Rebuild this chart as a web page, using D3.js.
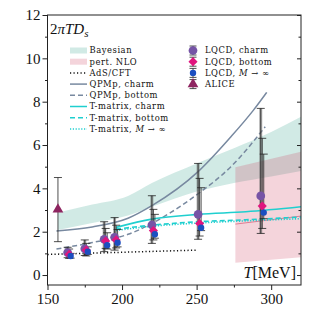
<!DOCTYPE html>
<html>
<head>
<meta charset="utf-8">
<script src="https://cdn.jsdelivr.net/npm/d3@7/dist/d3.min.js"></script>
<style>
  body { margin: 0; background: #fff; }
  text { font-family: 'Liberation Serif', 'DejaVu Serif', serif; fill: #111; }
  .leg text { font-family: 'DejaVu Serif', serif; font-size: 8.4px; letter-spacing: 0.55px; }
</style>
</head>
<body>
<div id="chart"></div>
<script>
// bands
const bayesT = [157, 180, 204, 220, 250, 275, 300, 320]
const bayesLo = [2.08, 2.4, 2.75, 3.15, 3.85, 4.25, 4.55, 4.8]
const bayesHi = [2.88, 3.25, 3.65, 4.25, 5.15, 5.85, 6.6, 7.3]
const nloT = [276, 320]
const nloLo = [0.57, 0.82]
const nloHi = [4.97, 5.69]
const nloMid = [2.35, 2.72]

// curves
const adsT = [150, 250]
const adsV = [0.95, 1.15]
const qpmCharmT = [156, 180, 204, 220, 251, 273, 288, 297]
const qpmCharmV = [2.03, 2.22, 2.62, 3.2, 4.77, 6.38, 7.6, 8.43]
const qpmBottomT = [156, 180, 204, 233, 251, 273, 296]
const qpmBottomV = [1.2, 1.5, 1.88, 2.9, 3.75, 5.0, 6.84]
const tmCharmT = [196, 220, 251, 283, 320]
const tmCharmV = [2.2, 2.58, 2.8, 2.92, 3.15]
const tmBottomT = [196, 220, 251, 283, 320]
const tmBottomV = [2.12, 2.3, 2.46, 2.55, 2.68]
const tmInfT = [196, 220, 251, 283, 320]
const tmInfV = [2.06, 2.25, 2.4, 2.5, 2.6]

// lattice points
const lqcdT = [163.5, 175, 188, 195, 220, 251, 293]
const charmV = [1.03, 1.21, 1.65, 1.74, 2.31, 2.8, 3.65]
const charmLo = [0.8, 0.9, 1.08, 1.15, 1.46, 1.65, 1.92]
const charmHi = [1.28, 1.62, 2.46, 2.65, 3.66, 5.15, 7.69]
const bottomV = [0.95, 1.15, 1.57, 1.62, 2.05, 2.38, 3.18]
const bottomLo = [0.77, 0.88, 1.23, 1.25, 1.62, 1.8, 2.15]
const bottomHi = [1.2, 1.46, 2.15, 2.3, 3.03, 4.46, 6.31]
const infV = [0.88, 1.08, 1.38, 1.49, 1.88, 2.18, 2.88]
const infLo = [0.78, 0.95, 1.2, 1.3, 1.7, 2.05, 2.6]
const infHi = [1.0, 1.3, 1.95, 2.1, 2.8, 4.03, 5.58]

const aliceT = [157]
const aliceV = [3.03]
const aliceLo = [1.54]
const aliceHi = [4.5]

const xTicks = [150, 200, 250, 300]
const xMinor = [175, 225, 275]
const yTicks = [0, 2, 4, 6, 8, 10, 12]
const yMinor = [1, 3, 5, 7, 9, 11]

const W = 317, H = 317
const mL = 47.5, mR = 301, mT = 15, mB = 285

const svg = d3.select('#chart').append('svg')
  .attr('width', W).attr('height', H)

const x = d3.scaleLinear().domain([150, 320]).range([mL, mR])
const y = d3.scaleLinear().domain([-0.46, 12]).range([mB, mT])

svg.append('clipPath').attr('id', 'clip')
  .append('rect').attr('x', mL).attr('y', mT)
  .attr('width', mR - mL).attr('height', mB - mT)

const plot = svg.append('g').attr('clip-path', 'url(#clip)')

const zip = (ts, vs) => ts.map((t, i) => [t, vs[i]])

// bands
const area = d3.area().x(d => x(d[0])).y0(d => y(d[1])).y1(d => y(d[2]))
plot.append('path')
  .attr('d', area.curve(d3.curveMonotoneX)(bayesT.map((t, i) => [t, bayesLo[i], bayesHi[i]])))
  .attr('fill', 'rgba(70,170,150,0.25)')
plot.append('path')
  .attr('d', area.curve(d3.curveLinear)(nloT.map((t, i) => [t, nloLo[i], nloHi[i]])))
  .attr('fill', 'rgba(205,60,90,0.22)')

const line = d3.line().x(d => x(d[0])).y(d => y(d[1])).curve(d3.curveMonotoneX)

plot.append('path').attr('d', line(zip(nloT, nloMid)))
  .attr('fill', 'none').attr('stroke', '#e07c92').attr('stroke-width', 1)

const curves = [
  {t: adsT, v: adsV, c: '#111', dash: '1.2,2.3', sw: 1.5},
  {t: qpmCharmT, v: qpmCharmV, c: '#7889a0', dash: null, sw: 1.5},
  {t: qpmBottomT, v: qpmBottomV, c: '#7889a0', dash: '5,3', sw: 1.5},
  {t: tmCharmT, v: tmCharmV, c: '#1fcfcf', dash: null, sw: 1.6},
  {t: tmBottomT, v: tmBottomV, c: '#1fcfcf', dash: '5,3', sw: 1.6},
  {t: tmInfT, v: tmInfV, c: '#1fcfcf', dash: '1.2,1.6', sw: 1.6}
]
curves.forEach(cv => {
  plot.append('path').attr('d', line(zip(cv.t, cv.v)))
    .attr('fill', 'none').attr('stroke', cv.c)
    .attr('stroke-width', cv.sw)
    .attr('stroke-dasharray', cv.dash)
})

// error bars
function errBars (g, ts, lo, hi, dx, thick) {
  ts.forEach((t, i) => {
    let cx = x(t) + dx
    if (thick) {
      g.append('line').attr('x1', cx).attr('x2', cx)
        .attr('y1', y(lo[i])).attr('y2', y(hi[i]))
        .attr('stroke', '#666').attr('stroke-opacity', 0.55).attr('stroke-width', 3)
    }
    g.append('line').attr('x1', cx).attr('x2', cx)
      .attr('y1', y(lo[i])).attr('y2', y(hi[i]))
      .attr('stroke', '#222').attr('stroke-width', 0.8)
    ;[lo[i], hi[i]].forEach(v => {
      g.append('line').attr('x1', cx - 4).attr('x2', cx + 4)
        .attr('y1', y(v)).attr('y2', y(v))
        .attr('stroke', '#222').attr('stroke-width', 0.8)
    })
  })
}
const eg = svg.append('g')
errBars(eg, lqcdT, charmLo, charmHi, 0, true)
errBars(eg, lqcdT, bottomLo, bottomHi, 1.5, false)
errBars(eg, lqcdT, infLo, infHi, 3, false)
errBars(eg, aliceT, aliceLo, aliceHi, 0, false)

const mk = {
  charm: {type: d3.symbolCircle, size: 60, fill: '#7654a6', rot: 0},
  bottom: {type: d3.symbolSquare, size: 42, fill: '#e0167e', rot: 45},
  inf: {type: d3.symbolCircle, size: 32, fill: '#1c4fc0', rot: 0},
  alice: {type: d3.symbolTriangle, size: 50, fill: '#8e2560', rot: 0}
}
function marks (g, ts, vs, dx, m) {
  g.selectAll(null).data(ts).enter().append('path')
    .attr('d', d3.symbol().type(m.type).size(m.size))
    .attr('transform', (t, i) => `translate(${x(t) + dx},${y(vs[i])}) rotate(${m.rot})`)
    .attr('fill', m.fill)
}
const mg = svg.append('g')
marks(mg, lqcdT, charmV, 0, mk.charm)
marks(mg, lqcdT, bottomV, 1.5, mk.bottom)
marks(mg, lqcdT, infV, 3, mk.inf)
marks(mg, aliceT, aliceV, 0, mk.alice)

// axes
const ax = svg.append('g')
function tidy (g) { g.select('.domain').remove(); g.selectAll('line').attr('stroke', '#222') }
ax.append('g').attr('transform', `translate(${mL},0)`)
  .call(d3.axisLeft(y).tickValues(yTicks).tickSize(5).tickPadding(2).tickFormat(d3.format('d')))
  .call(tidy)
  .selectAll('text').attr('font-size', 15).attr('font-family', 'Liberation Serif')
ax.append('g').attr('transform', `translate(${mL},0)`)
  .call(d3.axisLeft(y).tickValues(yMinor).tickSize(2.5).tickFormat(''))
  .call(tidy)
ax.append('g').attr('transform', `translate(${mR},0)`)
  .call(d3.axisLeft(y).tickValues(yTicks).tickSize(4).tickFormat(''))
  .call(tidy)
ax.append('g').attr('transform', `translate(${mR},0)`)
  .call(d3.axisLeft(y).tickValues(yMinor).tickSize(2.5).tickFormat(''))
  .call(tidy)
ax.append('g').attr('transform', `translate(0,${mB})`)
  .call(d3.axisBottom(x).tickValues(xTicks).tickSize(5).tickPadding(3).tickFormat(d3.format('d')))
  .call(tidy)
  .selectAll('text').attr('font-size', 15).attr('font-family', 'Liberation Serif')
ax.append('g').attr('transform', `translate(0,${mB})`)
  .call(d3.axisBottom(x).tickValues(xMinor).tickSize(2.5).tickFormat(''))
  .call(tidy)
svg.append('rect').attr('x', mL).attr('y', mT)
  .attr('width', mR - mL).attr('height', mB - mT)
  .attr('fill', 'none').attr('stroke', '#222').attr('stroke-width', 1)

// titles
const tt = svg.append('text').attr('x', 50).attr('y', 33.5).attr('font-size', 15)
tt.append('tspan').text('2')
tt.append('tspan').attr('font-style', 'italic').text('πTD')
tt.append('tspan').attr('font-style', 'italic').attr('font-size', 11).attr('dy', 3).text('s')

const xl = svg.append('text').attr('x', 296).attr('y', 278).attr('font-size', 16).attr('text-anchor', 'end')
xl.append('tspan').attr('font-style', 'italic').text('T')
xl.append('tspan').text('[MeV]')

// left legend
const leg1 = svg.append('g').attr('class', 'leg')
const legRows = [
  {label: 'Bayesian', kind: 'rect', c: 'rgba(70,170,150,0.25)'},
  {label: 'pert. NLO', kind: 'rect', c: 'rgba(205,60,90,0.22)'},
  {label: 'AdS/CFT', kind: 'line', c: '#111', dash: '1.2,2.3'},
  {label: 'QPMp, charm', kind: 'line', c: '#7889a0', dash: null},
  {label: 'QPMp, bottom', kind: 'line', c: '#7889a0', dash: '5,3'},
  {label: 'T-matrix, charm', kind: 'line', c: '#1fcfcf', dash: null},
  {label: 'T-matrix, bottom', kind: 'line', c: '#1fcfcf', dash: '5,3'},
  {label: 'T-matrix, ', kind: 'line', c: '#1fcfcf', dash: '1.2,1.6', inf: true}
]
legRows.forEach((r, i) => {
  let ly = 50.5 + i * 11.2
  if (r.kind === 'rect') {
    leg1.append('rect').attr('x', 70).attr('y', ly - 3).attr('width', 17).attr('height', 6).attr('fill', r.c)
  } else {
    leg1.append('line').attr('x1', 70).attr('x2', 87).attr('y1', ly).attr('y2', ly)
      .attr('stroke', r.c).attr('stroke-width', 1.5).attr('stroke-dasharray', r.dash)
  }
  let t = leg1.append('text').attr('x', 89.5).attr('y', ly + 2.8).text(r.label)
  if (r.inf) {
    t.append('tspan').attr('font-style', 'italic').text('M')
    t.append('tspan').text(' → ∞')
  }
})

// right legend
const leg2 = svg.append('g').attr('class', 'leg')
const leg2Rows = [
  {label: 'LQCD, charm', m: mk.charm},
  {label: 'LQCD, bottom', m: mk.bottom},
  {label: 'LQCD, ', m: mk.inf, inf: true},
  {label: 'ALICE', m: mk.alice}
]
leg2Rows.forEach((r, i) => {
  let ly = 50.5 + i * 11.2
  let cx = 193
  leg2.append('line').attr('x1', cx).attr('x2', cx).attr('y1', ly - 4.5).attr('y2', ly + 4.5)
    .attr('stroke', '#222').attr('stroke-width', 0.8)
  ;[-4.5, 4.5].forEach(o => {
    leg2.append('line').attr('x1', cx - 3.5).attr('x2', cx + 3.5).attr('y1', ly + o).attr('y2', ly + o)
      .attr('stroke', '#222').attr('stroke-width', 0.8)
  })
  leg2.append('path').attr('d', d3.symbol().type(r.m.type).size(r.m.size))
    .attr('transform', `translate(${cx},${ly}) rotate(${r.m.rot})`).attr('fill', r.m.fill)
  let t = leg2.append('text').attr('x', 205).attr('y', ly + 2.8).text(r.label)
  if (r.inf) {
    t.append('tspan').attr('font-style', 'italic').text('M')
    t.append('tspan').text(' → ∞')
  }
})
</script>
</body>
</html>
